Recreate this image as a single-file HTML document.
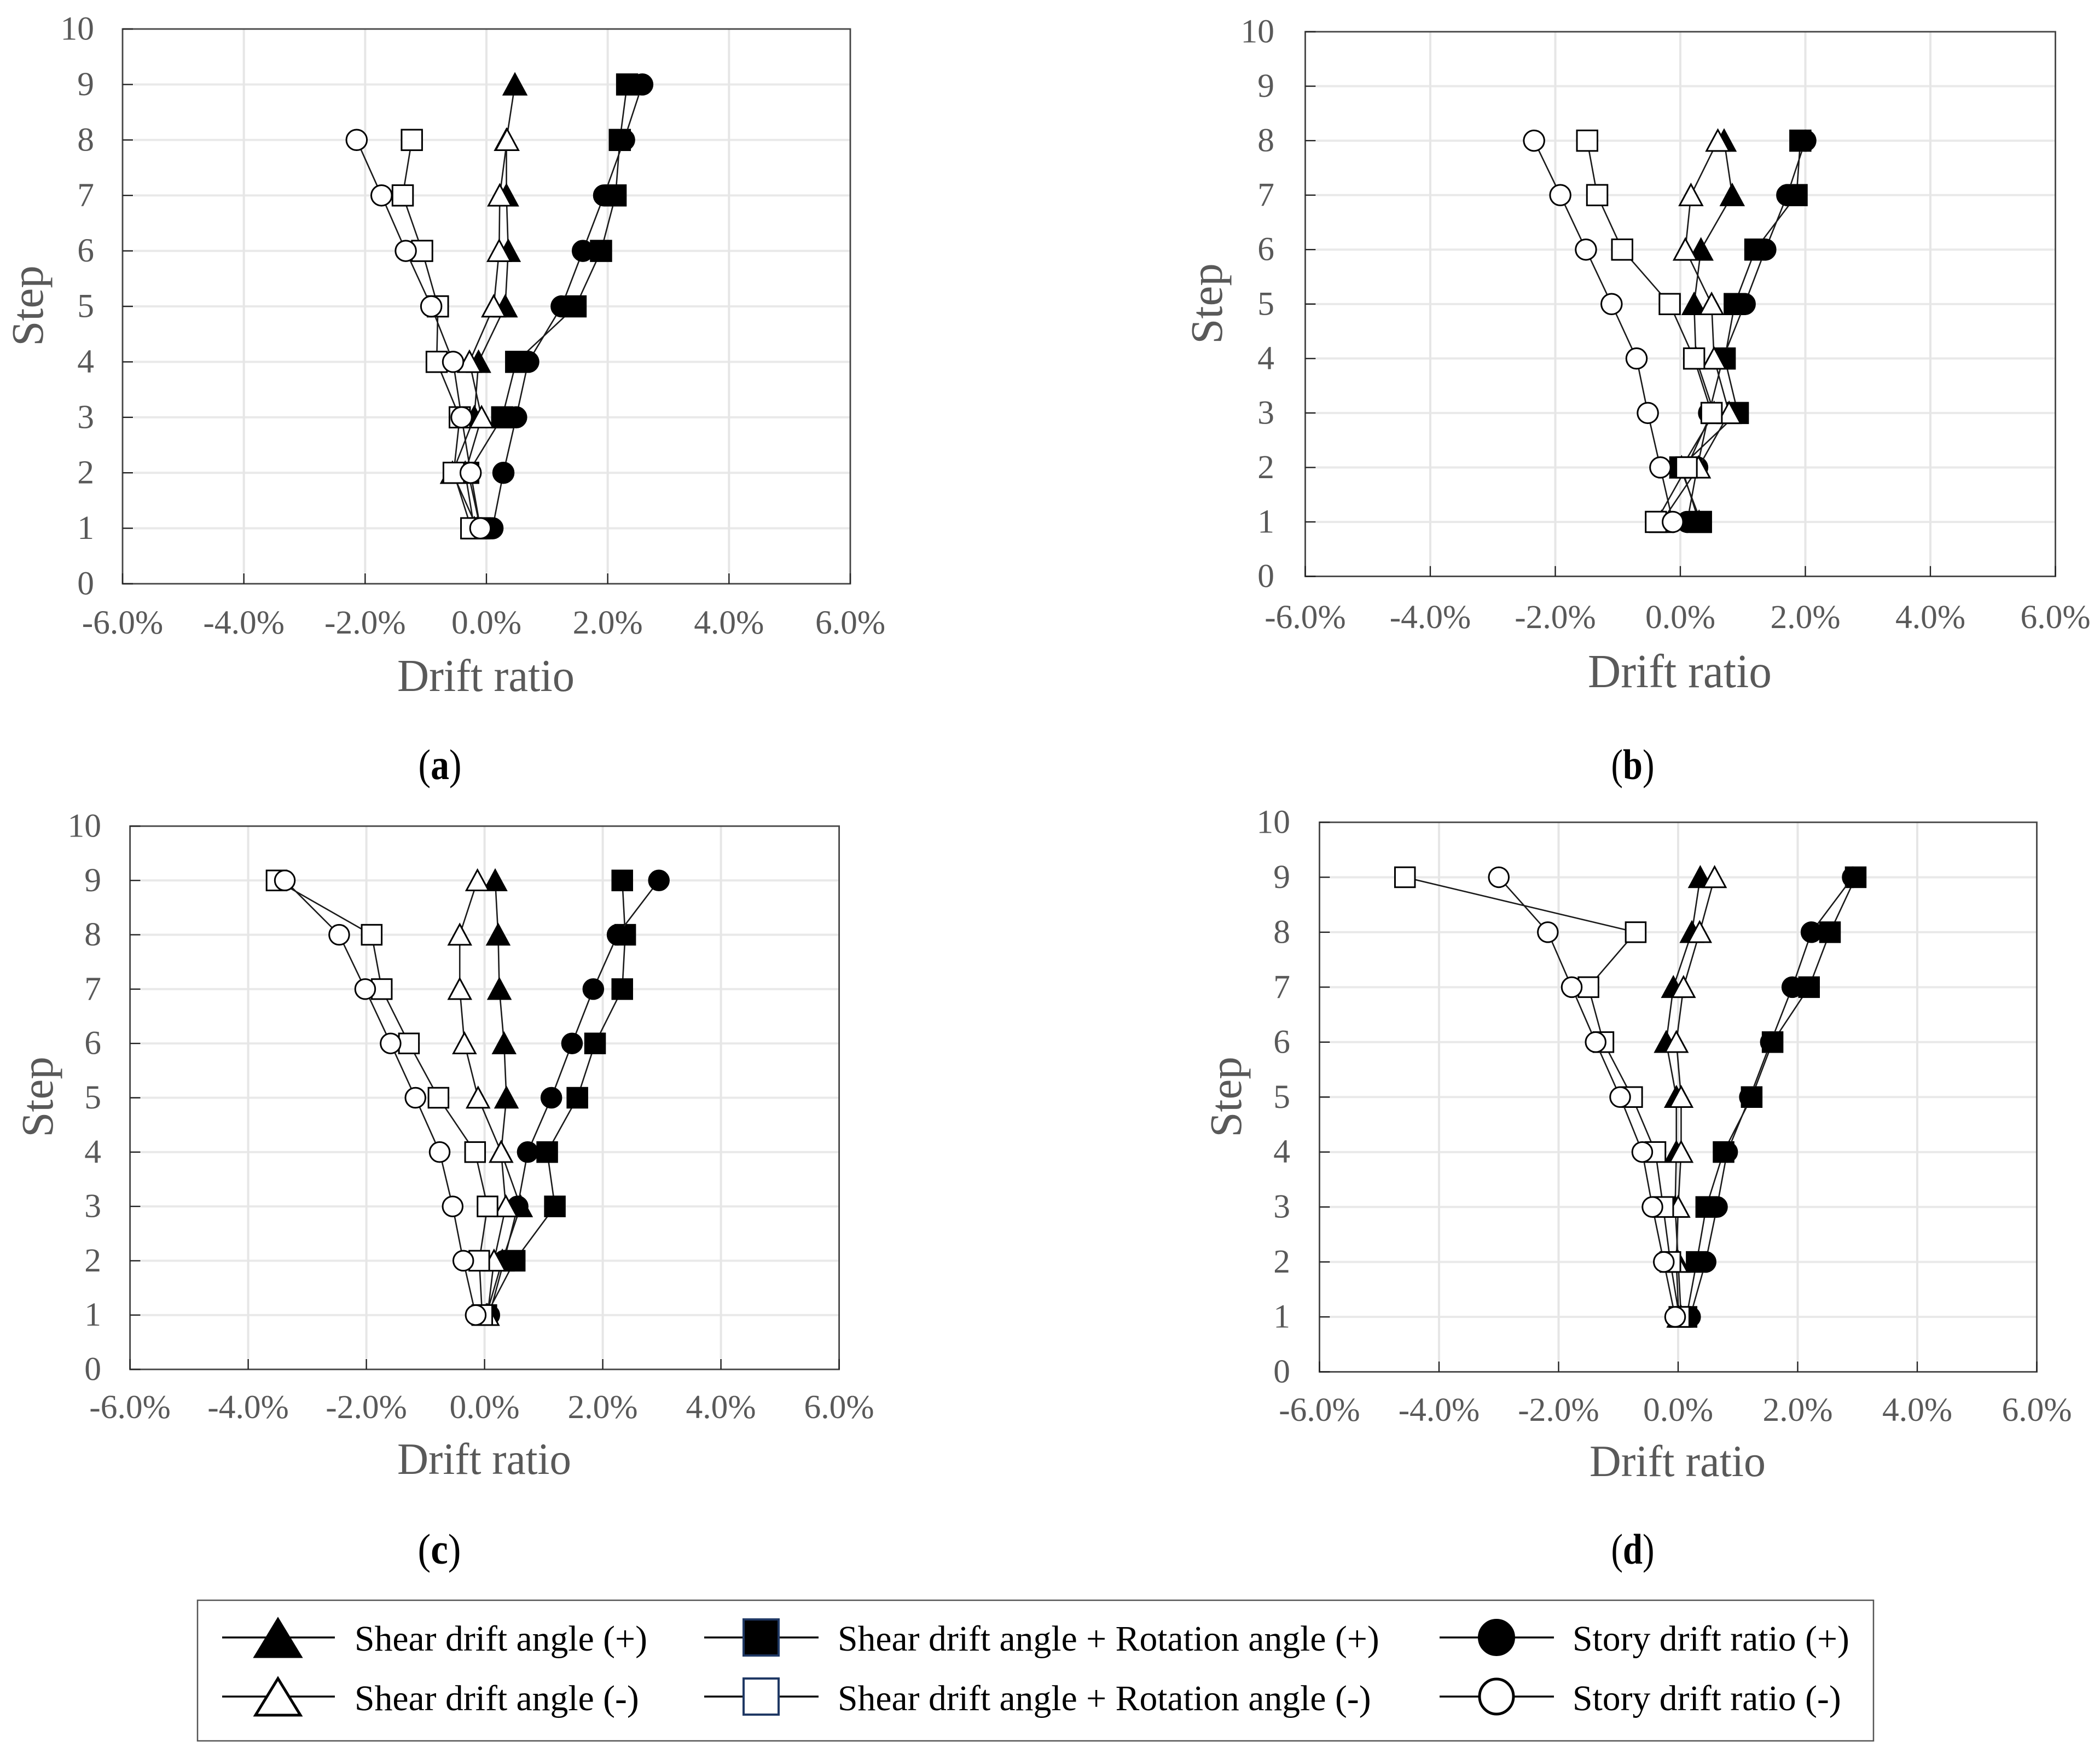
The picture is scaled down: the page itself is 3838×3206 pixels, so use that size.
<!DOCTYPE html>
<html lang="en">
<head>
<meta charset="utf-8">
<title>Drift ratio by step</title>
<style>
html,body{margin:0;padding:0;background:#fff;}
svg{display:block;}
text{font-family:"Liberation Serif",serif;}
.axis-title{fill:#595959;font-size:84px;text-anchor:middle;}
.tick{fill:#595959;font-size:61.5px;}
.sub{fill:#000;font-size:78px;text-anchor:middle;}
.leg{fill:#000;font-size:65.7px;}
</style>
</head>
<body>
<svg id="fig" xmlns="http://www.w3.org/2000/svg" width="3838" height="3206" viewBox="0 0 3838 3206">
<rect x="0" y="0" width="3838" height="3206" fill="#fff"/>

<g id="panel-a"></g>
<g id="panel-b"></g>
<g id="panel-c"></g>
<g id="panel-d"></g>

<text class="axis-title" x="888" y="1263" textLength="324" lengthAdjust="spacingAndGlyphs">Drift ratio</text>
<text class="axis-title" transform="translate(78,559) rotate(-90)" style="font-size:83px">Step</text>
<text class="sub" x="804" y="1424" textLength="79" lengthAdjust="spacingAndGlyphs">(<tspan font-weight="bold">a</tspan>)</text>

<text class="axis-title" x="3070" y="1256" textLength="336" lengthAdjust="spacingAndGlyphs" style="font-size:87px">Drift ratio</text>
<text class="axis-title" transform="translate(2233,555) rotate(-90)" style="font-size:83px">Step</text>
<text class="sub" x="2984" y="1424" textLength="79" lengthAdjust="spacingAndGlyphs">(<tspan font-weight="bold">b</tspan>)</text>

<text class="axis-title" x="885" y="2694" textLength="318" lengthAdjust="spacingAndGlyphs" style="font-size:82px">Drift ratio</text>
<text class="axis-title" transform="translate(96,2005) rotate(-90)" style="font-size:83px">Step</text>
<text class="sub" x="803" y="2858" textLength="79" lengthAdjust="spacingAndGlyphs">(<tspan font-weight="bold">c</tspan>)</text>

<text class="axis-title" x="3066" y="2698" textLength="322" lengthAdjust="spacingAndGlyphs" style="font-size:82px">Drift ratio</text>
<text class="axis-title" transform="translate(2268,2005) rotate(-90)" style="font-size:83px">Step</text>
<text class="sub" x="2984" y="2858" textLength="79" lengthAdjust="spacingAndGlyphs">(<tspan font-weight="bold">d</tspan>)</text>

<g id="legend">
  <rect x="361" y="2925" width="3063" height="257" fill="#fff" stroke="#555" stroke-width="2.5"/>

  <g>
    <line x1="406" y1="2993" x2="612" y2="2993" stroke="#000" stroke-width="3.5"/>
    <polygon points="508,2958 551,3029 465,3029" fill="#000" stroke="#000" stroke-width="3"/>
    <text class="leg" x="648" y="3017">Shear drift angle (+)</text>
  </g>
  <g>
    <line x1="406" y1="3101" x2="612" y2="3101" stroke="#000" stroke-width="3.5"/>
    <polygon points="508,3068 549,3135 467,3135" fill="#fff" stroke="#000" stroke-width="5"/>
    <text class="leg" x="648" y="3126">Shear drift angle (-)</text>
  </g>
  <g>
    <line x1="1287" y1="2993" x2="1496" y2="2993" stroke="#000" stroke-width="3.5"/>
    <rect x="1359" y="2960" width="64" height="66" fill="#000" stroke="#1f3864" stroke-width="4"/>
    <text class="leg" x="1531" y="3017">Shear drift angle + Rotation angle (+)</text>
  </g>
  <g>
    <line x1="1287" y1="3101" x2="1496" y2="3101" stroke="#000" stroke-width="3.5"/>
    <rect x="1359" y="3068" width="64" height="66" fill="#fff" stroke="#1f3864" stroke-width="4"/>
    <text class="leg" x="1531" y="3126">Shear drift angle + Rotation angle (-)</text>
  </g>
  <g>
    <line x1="2631" y1="2993" x2="2840" y2="2993" stroke="#000" stroke-width="3.5"/>
    <ellipse cx="2735" cy="2993" rx="33" ry="33" fill="#000" stroke="#000" stroke-width="2"/>
    <text class="leg" x="2874" y="3017">Story drift ratio (+)</text>
  </g>
  <g>
    <line x1="2631" y1="3101" x2="2840" y2="3101" stroke="#000" stroke-width="3.5"/>
    <ellipse cx="2735" cy="3101" rx="31" ry="32" fill="#fff" stroke="#000" stroke-width="5"/>
    <text class="leg" x="2874" y="3126">Story drift ratio (-)</text>
  </g>
</g>
</svg>

<script>
// Shared axis categories and tick labels
const stepCategories = [1, 2, 3, 4, 5, 6, 7, 8, 9];
const xTickValues = [-6, -4, -2, 0, 2, 4, 6];
const xTickLabels = ["-6.0%", "-4.0%", "-2.0%", "0.0%", "2.0%", "4.0%", "6.0%"];
const yTickValues = [0, 1, 2, 3, 4, 5, 6, 7, 8, 9, 10];
const yTickLabels = ["0", "1", "2", "3", "4", "5", "6", "7", "8", "9", "10"];

// Chart (a), drift ratio in percent per step
const aShearPos = [-0.15, -0.56, -0.2, -0.13, 0.31, 0.36, 0.33, 0.33, 0.47];
const aShearRotPos = [-0.1, -0.3, 0.26, 0.49, 1.47, 1.89, 2.13, 2.2, 2.32];
const aStoryPos = [0.1, 0.28, 0.49, 0.69, 1.24, 1.59, 1.94, 2.27, 2.57];
const aShearNeg = [-0.2, -0.35, -0.08, -0.28, 0.12, 0.21, 0.22, 0.34, null];
const aShearRotNeg = [-0.25, -0.54, -0.44, -0.82, -0.8, -1.06, -1.38, -1.23, null];
const aStoryNeg = [-0.1, -0.26, -0.41, -0.55, -0.91, -1.33, -1.73, -2.14, null];

// Chart (b)
const bShearPos = [0.3, 0.02, 0.54, 0.25, 0.22, 0.33, 0.83, 0.7, null];
const bShearRotPos = [0.33, 0.0, 0.92, 0.71, 0.87, 1.2, 1.86, 1.92, null];
const bStoryPos = [0.11, 0.27, 0.46, 0.68, 1.03, 1.36, 1.71, 2.0, null];
const bShearNeg = [-0.3, 0.29, 0.78, 0.54, 0.5, 0.08, 0.17, 0.6, null];
const bShearRotNeg = [-0.39, 0.1, 0.5, 0.22, -0.17, -0.93, -1.33, -1.49, null];
const bStoryNeg = [-0.12, -0.32, -0.52, -0.7, -1.1, -1.51, -1.92, -2.34, null];

// Chart (c)
const cShearPos = [0.03, 0.3, 0.61, 0.28, 0.37, 0.33, 0.25, 0.23, 0.18];
const cShearRotPos = [0.03, 0.51, 1.19, 1.06, 1.57, 1.87, 2.33, 2.38, 2.33];
const cStoryPos = [0.08, 0.33, 0.56, 0.73, 1.13, 1.48, 1.84, 2.25, 2.95];
const cShearNeg = [0.05, 0.16, 0.36, 0.28, -0.11, -0.34, -0.42, -0.42, -0.12];
const cShearRotNeg = [-0.04, -0.09, 0.05, -0.16, -0.78, -1.28, -1.74, -1.91, -3.52];
const cStoryNeg = [-0.15, -0.36, -0.54, -0.76, -1.17, -1.59, -2.02, -2.46, -3.38];

// Chart (d)
const dShearPos = [0.05, 0.0, -0.05, -0.03, -0.03, -0.2, -0.08, 0.23, 0.37];
const dShearRotPos = [0.14, 0.31, 0.47, 0.76, 1.23, 1.58, 2.19, 2.54, 2.97];
const dStoryPos = [0.2, 0.46, 0.65, 0.82, 1.2, 1.55, 1.91, 2.23, 2.92];
const dShearNeg = [0.01, -0.03, 0.0, 0.05, 0.05, -0.03, 0.09, 0.36, 0.61];
const dShearRotNeg = [0.02, -0.13, -0.25, -0.38, -0.77, -1.25, -1.5, -0.71, -4.57];
const dStoryNeg = [-0.05, -0.24, -0.43, -0.6, -0.97, -1.38, -1.78, -2.18, -3.0];

const xDomain = [-6, 6];
const yDomain = [0, 10];
const NS = "http://www.w3.org/2000/svg";

function xAxisFn(box) {
  return function (v) {
    return box.left + (v - xDomain[0]) / (xDomain[1] - xDomain[0]) * (box.right - box.left);
  };
}
function yAxisFn(box) {
  return function (v) {
    return box.bottom - (v - yDomain[0]) / (yDomain[1] - yDomain[0]) * (box.bottom - box.top);
  };
}
function make(tag, parent, attrs) {
  const el = document.createElementNS(NS, tag);
  for (const k in attrs) el.setAttribute(k, attrs[k]);
  parent.appendChild(el);
  return el;
}

function drawMarker(g, kind, filled, cx, cy, size) {
  const h = size / 2;
  const fill = filled ? "#000" : "#fff";
  let el;
  if (kind === "triangle") {
    el = make("polygon", g, {
      points: cx + "," + (cy - h - 1) + " " + (cx + h + 2) + "," + (cy + h) + " " + (cx - h - 2) + "," + (cy + h),
      fill: fill, stroke: "#000", "stroke-width": 3
    });
  } else if (kind === "square") {
    el = make("rect", g, {
      x: cx - h, y: cy - h, width: size, height: size,
      fill: fill, stroke: "#000", "stroke-width": 3
    });
  } else {
    el = make("ellipse", g, {
      cx: cx, cy: cy, rx: h, ry: h,
      fill: fill, stroke: "#000", "stroke-width": 3
    });
  }
  
  
}

function drawSeries(parent, sx, sy, values, kind, filled, name, size) {
  const g = make("g", parent, {});
  
  
  const pts = [];
  values.forEach(function (v, i) {
    if (v !== null) pts.push([sx(v), sy(stepCategories[i])]);
  });
  const line = make("polyline", g, {
    points: pts.map(function (p) { return p[0] + "," + p[1]; }).join(" "),
    fill: "none", stroke: "#1a1a1a", "stroke-width": 2.6
  });
  
  
  pts.forEach(function (p) { drawMarker(g, kind, filled, p[0], p[1], size); });
}

function drawPanel(id, box, series) {
  const root = document.getElementById(id);
  const sx = xAxisFn(box);
  const sy = yAxisFn(box);

  yTickValues.forEach(function (v, i) {
    if (v !== yDomain[0] && v !== yDomain[1]) {
      const gl = make("line", root, { x1: box.left + 20, x2: box.right, y1: sy(v), y2: sy(v), stroke: "#e9e9e9", "stroke-width": 4 });
      
      
    }
  });
  xTickValues.forEach(function (v) {
    if (v !== xDomain[0] && v !== xDomain[1]) {
      const gl = make("line", root, { x1: sx(v), x2: sx(v), y1: box.top, y2: box.bottom - 20, stroke: "#e6e6e6", "stroke-width": 4 });
      
      
    }
  });

  const frame = make("rect", root, {
    x: box.left, y: box.top, width: box.right - box.left, height: box.bottom - box.top,
    fill: "none", stroke: "#444", "stroke-width": 2.8
  });
  
  

  xTickValues.forEach(function (v, i) {
    const tk = make("line", root, { x1: sx(v), x2: sx(v), y1: box.bottom, y2: box.bottom - 19, stroke: "#222", "stroke-width": 2.4 });
    
    
    const t = make("text", root, { x: sx(v), y: box.xLabelY, "text-anchor": "middle", "class": "tick" });
    t.textContent = xTickLabels[i];
    
    
  });
  yTickValues.forEach(function (v, i) {
    const tk = make("line", root, { x1: box.left, x2: box.left + 19, y1: sy(v), y2: sy(v), stroke: "#222", "stroke-width": 2.4 });
    
    
    const t = make("text", root, { x: box.yLabelX, y: sy(v) + 19.5, "text-anchor": "end", "class": "tick" });
    t.textContent = yTickLabels[i];
    
    
  });

  drawSeries(root, sx, sy, series.shearPos, "triangle", true, "series-shear-positive", box.size);
  drawSeries(root, sx, sy, series.shearRotPos, "square", true, "series-shear-rotation-positive", box.size);
  drawSeries(root, sx, sy, series.storyPos, "circle", true, "series-story-positive", box.size);
  drawSeries(root, sx, sy, series.shearNeg, "triangle", false, "series-shear-negative", box.size);
  drawSeries(root, sx, sy, series.shearRotNeg, "square", false, "series-shear-rotation-negative", box.size);
  drawSeries(root, sx, sy, series.storyNeg, "circle", false, "series-story-negative", box.size);
}

drawPanel("panel-a",
  { left: 224, right: 1554, top: 53, bottom: 1067, xLabelY: 1158, yLabelX: 172, size: 37.5 },
  { shearPos: aShearPos, shearRotPos: aShearRotPos, storyPos: aStoryPos, shearNeg: aShearNeg, shearRotNeg: aShearRotNeg, storyNeg: aStoryNeg });
drawPanel("panel-b",
  { left: 2385.5, right: 3756.5, top: 58, bottom: 1053.5, xLabelY: 1148, yLabelX: 2329, size: 37.5 },
  { shearPos: bShearPos, shearRotPos: bShearRotPos, storyPos: bStoryPos, shearNeg: bShearNeg, shearRotNeg: bShearRotNeg, storyNeg: bStoryNeg });
drawPanel("panel-c",
  { left: 237.6, right: 1533.6, top: 1510, bottom: 2503, xLabelY: 2592, yLabelX: 185, size: 36.5 },
  { shearPos: cShearPos, shearRotPos: cShearRotPos, storyPos: cStoryPos, shearNeg: cShearNeg, shearRotNeg: cShearRotNeg, storyNeg: cStoryNeg });
drawPanel("panel-d",
  { left: 2411.5, right: 3722.5, top: 1503, bottom: 2507.5, xLabelY: 2597, yLabelX: 2358, size: 36.5 },
  { shearPos: dShearPos, shearRotPos: dShearRotPos, storyPos: dStoryPos, shearNeg: dShearNeg, shearRotNeg: dShearRotNeg, storyNeg: dStoryNeg });
</script>
</body>
</html>
